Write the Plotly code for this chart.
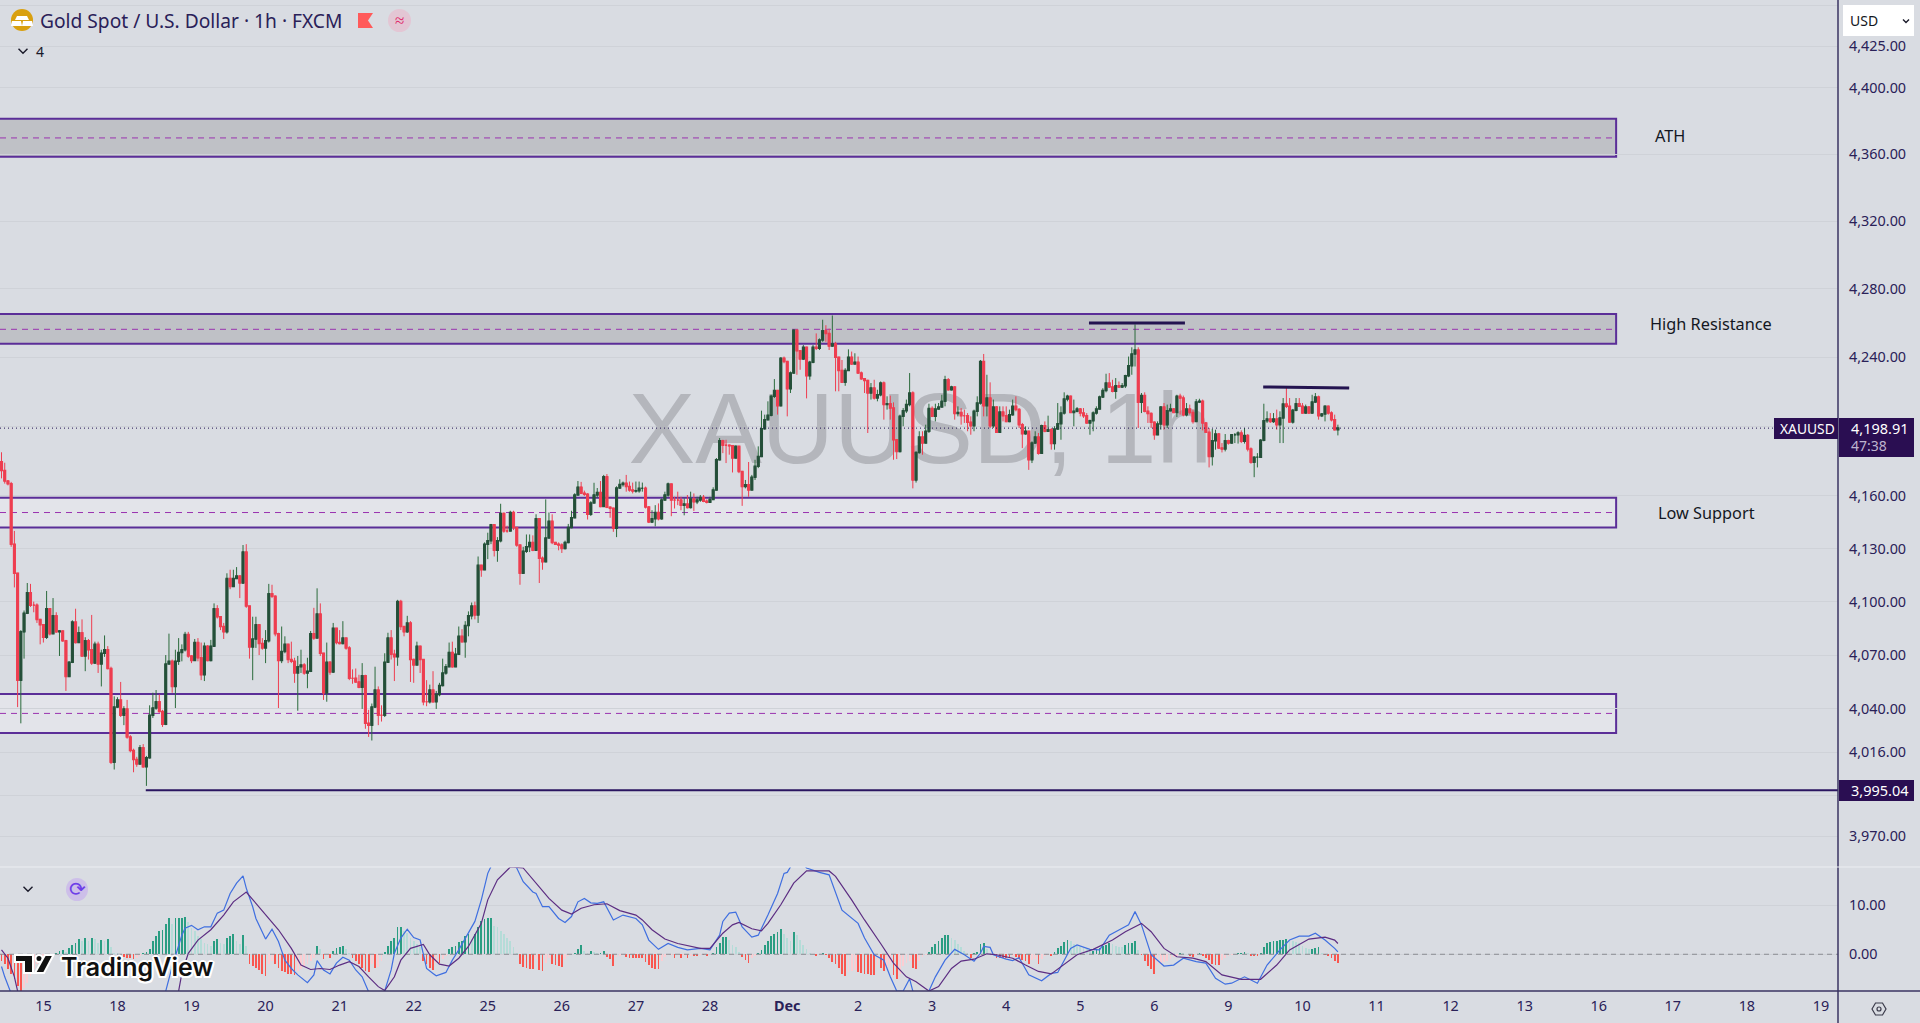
import math
import plotly.graph_objects as go

# ---------- candle values (1h bars, price in USD) ----------
first_open = 4179.6
close = [
4174.5,4168.5,4167,4132.5,4116,4056,4083,4093.5,4105,4098,4098,4090,4087,4080,4096,4082,4092,4083,4083.5,4078,
4058,4066,4088.5,4077,4082.5,4069.5,4078,4073,4065.5,4076,4065,4071,4073,4062.5,4010.5,4041,4045,4036.5,4040,4024.5,
4017,4012,4009.5,4018.5,4008,4013,4036.5,4040.5,4044,4038.5,4031.5,4065,4066.5,4052.5,4066.5,4071.5,4073,4081.5,4069.5,4067,
4077,4068.5,4059,4075,4067,4075,4096,4091.5,4086,4083,4113,4108.5,4113,4114.5,4110.5,4128,4097.5,4074.5,4079,4087,
4076.5,4074,4078,4104.5,4103,4082,4067,4072,4076,4067.5,4066.5,4060,4063.5,4064.5,4060,4061,4082,4079.5,4093,4071,
4049,4066,4060.5,4085,4077,4076.5,4079.5,4074,4057,4057,4055,4052,4058.5,4032,4031,4041,4050.5,4036.5,4036.5,4066,
4079.5,4070.5,4069,4100,4086,4083,4088,4067.5,4064.5,4075,4067.5,4044,4044,4050.5,4044,4048,4053,4060,4063.5,4071.5,
4063.5,4070.5,4080.5,4077.5,4086.5,4092,4097.5,4092.5,4120.5,4118,4132.5,4134.5,4143.5,4129,4134.5,4150,4140,4140,4150.5,4142,
4132,4116,4128.5,4131,4133.5,4129,4147,4124.5,4122.5,4136,4145.5,4133.5,4132.5,4132,4130,4133.5,4142,4147.5,4160.5,4165,
4161.5,4161,4149.5,4156,4160.5,4162,4154,4171,4153.5,4153,4141.5,4164.5,4166.5,4167.2,4165.3,4163.4,4162.8,4163,4164.3,4164.3,
4153.7,4145.1,4147,4150.5,4147,4157.6,4160.5,4166.8,4157.6,4157.6,4157.6,4154.7,4155.3,4153.4,4158.2,4156.6,4157.6,4159.1,4157,4156.4,
4158,4163.4,4180.7,4191.7,4189,4189,4188.8,4181.7,4188.4,4174,4165.3,4166.3,4163.4,4170.7,4176.9,4182.6,4198.6,4203.8,4206.3,4217.3,
4220.7,4211.9,4239.4,4237.5,4221.7,4230.8,4255.8,4243.8,4239,4245.8,4229.2,4237.1,4245.8,4245.2,4250,4255.4,4253.9,4246.5,4247.7,4240,
4232.3,4225.5,4232.3,4240,4236.1,4237.1,4230.8,4227.5,4226.5,4219.2,4222.1,4216.3,4218.2,4225,4212.5,4213,4210.5,4192.2,4185.5,4205.7,
4209,4212.5,4219.2,4169.1,4184.9,4193.8,4190.3,4197.1,4210.2,4205.7,4210,4211.1,4214.4,4226.9,4221.1,4222.7,4207.3,4208,4206.1,4206.1,
4202.3,4200.3,4208.6,4213.4,4237.5,4211.9,4216.3,4200.3,4211.1,4196.5,4208.2,4206.1,4202.8,4206.7,4211.5,4209.6,4200.9,4195.7,4197.1,4180.7,
4190.3,4193.8,4184.5,4200.3,4197.1,4198,4190,4198.4,4201.5,4207.6,4215.7,4217.3,4208,4208.6,4210,4207.6,4206.1,4201.9,4203.2,4207.6,
4210,4216.9,4220.7,4225,4222.7,4220.2,4223.4,4222.7,4223.4,4229.2,4235,4241.9,4244.2,4213.8,4217.7,4208.6,4207.3,4202.3,4195.1,4201.3,
4211.1,4200.9,4209,4210,4208,4217.3,4216.3,4206.7,4210,4208,4202.8,4214,4214.4,4201.9,4196.5,4182.6,4191.7,4195.5,4187.4,4186.9,
4191.7,4190.3,4195.1,4195.1,4196.1,4191.3,4194.6,4186.9,4179.3,4182.2,4182.2,4191.9,4203.2,4204.2,4202.8,4204.2,4200.9,4204.8,4212.8,4211.5,
4202.5,4209.2,4213,4211.5,4207.6,4211.1,4207.6,4214,4216.9,4206.1,4207.1,4211.5,4207.6,4203.8,4198,4198.91]
high = [
4185,4179,4169,4168,4140,4116,4084,4095,4110.5,4110,4100,4099,4090,4087,4106,4096,4102,4094,4084,4083,
4078.5,4066.5,4089.5,4096,4086,4090,4080,4079,4092.5,4077.5,4077.5,4073,4081,4075,4063.5,4047,4046.5,4055,4041.5,4045,
4025.5,4018,4013.5,4020,4020.5,4014,4042,4049,4050.5,4048,4039.5,4070,4082,4067.5,4073,4079.5,4076,4083,4083,4070,
4079,4079.5,4077,4077,4075.5,4078.5,4099,4098,4091.5,4088,4116,4118,4118,4119.5,4114.5,4132,4132.5,4097.5,4091.5,4091.5,
4087,4079.5,4084,4110,4109.5,4103.5,4082.5,4086,4080.5,4076,4077.5,4068.5,4069.5,4073,4065.5,4068.5,4083.5,4096.5,4107.5,4099,
4071,4077,4066.5,4088,4085,4084,4089,4079.5,4075,4062,4062.5,4059,4065.5,4059,4039.5,4043,4063.5,4052.5,4042,4071,
4082.5,4084,4073,4101,4101,4086,4092,4089,4068,4077.5,4075,4067.5,4056,4053.5,4061,4050,4054.5,4068,4065,4077,
4077.5,4074,4086,4084.5,4089,4094.5,4099.5,4100,4125.5,4120.5,4133.5,4139,4144,4143.5,4136.5,4155.5,4150.5,4143,4151.5,4151.5,
4142,4132,4131,4138,4138,4137.5,4149.5,4147,4125.5,4158,4150.5,4149.5,4133.5,4133.5,4133,4134.5,4144,4151.5,4161.5,4168.5,
4168,4163,4161.5,4157,4167.5,4164.5,4168.5,4172,4172.5,4154,4153,4165.5,4169.5,4168.2,4172,4168.2,4167.6,4168.2,4168.2,4167.6,
4165.3,4154.1,4151.8,4154.7,4155.7,4158.6,4162.4,4167.6,4166.3,4159.5,4162.4,4159.5,4158.6,4160.5,4162.4,4161.4,4159.5,4160.5,4160.5,4158,
4159.5,4164.9,4181.7,4193.2,4192.2,4192.2,4189.4,4189,4188.8,4187.4,4174,4169.1,4179.4,4172,4180.7,4188.4,4209,4206.7,4214.4,4218.2,
4227.3,4220.7,4240,4240.4,4237.9,4231.7,4256.2,4255.8,4244.2,4247.1,4246.1,4237.9,4247.1,4253.9,4251,4261.9,4258.7,4256.7,4264.4,4249,
4240,4238.4,4233.6,4244.6,4243.3,4242.3,4240.4,4231.7,4227.9,4226.9,4225,4226.9,4221.1,4225.9,4225.9,4217.3,4217.7,4213.8,4192.6,4206.7,
4210.5,4215.4,4230.8,4220.2,4185.5,4197.1,4197.1,4200.9,4213,4211.5,4213,4213.4,4218.2,4229.2,4227.9,4223.4,4223,4211.5,4210.5,4209.6,
4207.6,4205.7,4209.6,4217.3,4238.4,4241.9,4229.8,4225.4,4215.4,4211.5,4211.5,4211.5,4211.5,4209.6,4215.4,4217.3,4210.5,4201.9,4199.9,4197.1,
4191.3,4197.1,4196.1,4200.9,4202.8,4206.1,4199,4200,4213.4,4211.5,4219.6,4218.2,4217.7,4215.4,4211.1,4210.5,4210.5,4207.6,4203.8,4208.6,
4211.5,4217.7,4222,4230.4,4230.8,4226.9,4227.9,4225.9,4225,4229.8,4240.4,4245.8,4259.2,4245.8,4219.2,4219.6,4211.5,4208,4202.8,4202.8,
4211.5,4213.4,4212.5,4213,4210.5,4218.2,4218.8,4217.7,4213.4,4212.5,4209.6,4215.7,4215.9,4215.4,4202.3,4199,4198.4,4198,4196.1,4190.3,
4195.5,4192.2,4195.5,4196.1,4197.1,4197.6,4199,4195.5,4187.8,4182.6,4184.5,4192.6,4213,4208.6,4207.6,4207.6,4209.6,4208.6,4216.3,4222.1,
4216.3,4210,4216.3,4216.3,4213.4,4212.5,4211.5,4218.2,4219.2,4217.7,4207.6,4212.1,4211.9,4208.6,4206.7,4200.9]
low = [
4170,4167,4166,4131,4108,4041,4032,4068,4093,4097,4094,4088,4076,4077,4079,4081,4082,4082.5,4069.5,4077.5,
4050,4058,4065.5,4076.5,4077,4069,4061,4067.5,4064.5,4065,4060,4052.5,4069,4062,4009.5,4006.5,4040.5,4035.5,4031,4023.5,
4016,4005,4008,4009.5,4007.5,3997.5,4012.5,4035,4039.5,4038,4030,4031,4065,4049,4040.5,4064.5,4066.5,4072,4068.5,4065.5,
4067,4066.5,4056,4055.5,4066.5,4066.5,4075,4090.5,4084,4079,4082,4107,4108.5,4113,4102,4110,4096.5,4068,4056,4074,
4070,4073,4065.5,4077,4102,4080.5,4040.5,4065.5,4071,4065.5,4065.5,4054.5,4039,4060,4059,4051.5,4060.5,4078.5,4079.5,4069.5,
4045,4044,4059,4060,4076,4076,4076,4073,4056,4054,4054.5,4051.5,4040,4029,4024.5,4022.5,4040.5,4031,4033,4035.5,
4069.5,4067.5,4055.5,4064,4084,4080.5,4082.5,4055,4054.5,4064.5,4060,4042,4041.5,4043,4043.5,4040,4047,4052.5,4059,4063.5,
4063,4063.5,4070,4077,4068.5,4080.5,4090,4090,4088,4114,4118,4124,4132.5,4125.5,4122.5,4133.5,4139,4139,4140,4140.5,
4131,4109.5,4116,4127.5,4128,4128.5,4129,4110.5,4118,4122.5,4136,4132.5,4132,4129,4127.5,4129.5,4133,4141.5,4147.5,4160.5,
4161,4160,4146.5,4148.5,4156,4159,4153.5,4154,4153,4147.5,4139.5,4136.5,4164,4165.3,4162.4,4162.4,4161.4,4161.8,4161.8,4162.4,
4152.8,4144.5,4144.5,4142.6,4146,4146.4,4157.6,4159.5,4148.4,4152.8,4154.7,4151.8,4148.9,4152.8,4152.8,4151.4,4155.3,4156.6,4156.4,4155.7,
4156,4157.6,4163,4180.3,4184.5,4178.8,4183.6,4173.4,4181.7,4173,4154.3,4164.3,4159.5,4163.4,4169.1,4175.9,4182.2,4198,4203.4,4205.7,
4216.3,4206.7,4211.5,4236.5,4205.7,4219.2,4230.4,4229.8,4232.7,4238.4,4216.1,4226.9,4236.5,4244.2,4244.2,4249,4249,4244.2,4246.1,4220.2,
4220.2,4225,4223.4,4232.3,4235.6,4236.1,4230.4,4226.9,4219.2,4196.1,4215.4,4215.4,4214.4,4217.3,4203.8,4209.6,4203.8,4180.7,4181.1,4184.9,
4200,4207.6,4211.5,4164.3,4167.6,4184.2,4183.6,4190.3,4196.1,4205.3,4202.8,4209.6,4211.1,4211.5,4220.7,4220.7,4203.8,4205.7,4200.9,4201.9,
4197.1,4195.1,4197.1,4205.7,4212.5,4205.7,4205.7,4199,4199,4196.1,4196.5,4202.8,4202.3,4202.3,4206.1,4208.6,4199,4187.4,4195.1,4174.9,
4178.8,4190,4183.6,4184.2,4196.5,4197.1,4186.5,4186.5,4198,4192.2,4206.7,4214.4,4207.6,4200,4208,4205.7,4204.8,4201.5,4195.1,4197.1,
4206.7,4209.6,4216.3,4219.6,4222.1,4219.6,4215.9,4222.1,4222.1,4222.1,4228.4,4229.8,4234.6,4199,4207.6,4208,4201.9,4199,4192.2,4196.1,
4198,4198,4199,4208.6,4207.6,4205.3,4206.7,4205.7,4205.7,4206.7,4201.5,4202.8,4213.4,4197.6,4196.1,4176.3,4177.4,4186.5,4186.9,4184.9,
4185.5,4189.4,4190,4190.3,4190,4190.3,4190,4185.5,4178.4,4170.7,4176.3,4181.7,4191.3,4201.9,4201.9,4201.9,4198,4190.3,4190.3,4210.5,
4201.9,4201.5,4208.6,4211.1,4207.3,4207.3,4207.3,4207.3,4213.4,4203.8,4205.3,4202.8,4206.7,4202.8,4197.6,4194.7]
open_ = [first_open] + close[:-1]

# ---------- MACD pane values ----------
hist = [
-1.4,-2,-3.1,-4.1,-5.1,-6.5,-7.5,-6.8,-5.8,-4.4,-3.1,-2,-1.7,-1.4,-.7,-.4,-.1,.3,.7,.8,
.5,1.2,1.9,2.4,3.1,2.7,3.4,2.7,3.3,3.1,2.4,2.9,2.7,3.1,1.4,.3,.2,.1,-.5,-.7,
-.8,-1,-.7,-.3,.3,.5,1,2.7,3.7,4.8,4.9,6.1,7.3,6.1,7.3,7.5,7.5,7.6,6.5,5.4,
4.8,3.7,3.1,2.4,2,1.7,2.7,3.1,2.4,2,3.4,3.7,4.1,2.7,2,3.9,1.7,-1.9,-2.4,-2.7,
-3.2,-4.1,-4.5,-2,-1.4,-2,-2.9,-3.4,-3.7,-4.1,-4.1,-4.2,-3.4,-3.1,-2.6,-1.9,-1.4,-.7,1.7,1,
-1,-.3,-.8,.7,1.2,1.5,1.7,1,.3,-.7,-1.4,-1.9,-2.7,-3.4,-3.7,-2,-2.7,-2.6,-1.4,.5,
1.7,2.7,3.4,5.6,5.6,4.8,4.4,3.4,2.7,2,1.4,-1.4,-2,-2.7,-3.3,-1.7,-1.7,-1,-.3,1,
1.4,1.7,2.6,2.7,3.7,4.1,3.1,4.1,5.6,6.8,7.1,7.3,7.3,5.8,5.6,4.8,4.1,3.4,2.7,1.4,
.3,-2,-2.6,-2.9,-3.1,-3.1,-1,-3.3,-3.4,-1.7,-.7,-2,-2.2,-2.4,-2.6,-1,-.3,.1,.3,1,
1.9,.7,.3,.7,.5,.3,.3,.7,-.5,-1,-2.4,-.5,-.3,-.2,-.5,-.8,-.8,-.8,-.8,-.8,
-1.5,-2.2,-2.9,-3.1,-3.1,-1.4,-.5,-.2,-.1,-.7,-.2,-.8,-.3,-.8,-.3,-.3,-.3,-.2,-.2,-.3,
0,.3,1.5,2.4,3.5,3.5,2.9,1.9,1.4,.5,-.5,-1.1,-1.8,-.8,-.4,.2,.8,1.9,2.7,3.7,
4.1,4.6,5.2,4.1,3.3,2.7,4.5,3.9,2.9,1.9,1,.3,.1,-.3,.1,.3,-.2,-.8,-1.5,-2,
-2.9,-4.1,-4.4,-3.7,-3.4,-3.3,-3.7,-3.9,-4.1,-4.1,-4.2,-4.2,-2.2,-2.7,-3.4,-2.6,-2,-4.2,-5.1,-4.1,
-2.4,-1.7,-1.4,-2.7,-3.1,-1.4,-.5,-.1,.5,1.5,2,2.7,3.4,3.9,3.9,3.4,2.9,2,1.4,.7,
.2,-.7,.2,.5,2,2.2,1,.3,-.2,-.7,-.7,-.8,-.8,-.8,-.3,-.5,-1,-1.2,-1.4,-2,
-1.2,-1,-2,-1,-.3,-.2,-.3,.5,1.2,1.7,2.6,2.9,2.7,2,1.7,1.5,1.2,1,.7,.7,
1,1.2,1.6,1.9,2.4,2,1.7,1.5,1.4,1.8,2.2,2.4,2.7,.8,-.2,-1.4,-2.4,-3.1,-4.1,-2.2,
-1.9,-1.6,-1.4,-1,-.5,-.3,.3,.2,.1,-.3,-.5,-.2,.3,-.3,-.7,-1.2,-2,-2.2,-2.2,-1.2,
-.7,-.4,-.2,.1,.3,.3,.5,.2,-.3,-.3,-.3,.3,1.5,2.2,2.5,2.7,2.8,2.9,2.9,3.1,
2.9,2.7,2.6,2.2,1.7,1.2,1,1,1.2,1.4,.3,-.1,-.3,-.7,-1.4,-1.7]
macd_i = [0,1,3,4,20,41,48,51,53,55,56,57,59,61,63,65,67,69,71,73,75,76,78,79,81,82,84,86,88,90,92,95,97,98,100,102,104,106,108,110,112,114,116,119,121,122,124,126,128,130,132,134,135,138,140,142,144,147,149,151,152,154,160,162,165,166,168,170,173,175,177,179,181,183,185,187,190,193,197,199,201,204,207,210,213,217,220,223,224,226,228,230,233,235,238,241,243,244,245,247,250,254,257,259,261,266,268,271,274,276,278,280,282,283,285,288,290,293,296,299,302,304,305,307,308,312,314,316,319,323,326,328,332,334,338,341,344,348,350,352,354,357,361,364,367,371,374,377,380,382,386,390,393,397,400,403,406,408,411,414,415]
macd_v = [-2.5,-4.6,-8,-10,-21.6,-18.8,-10.7,-7.5,-2.5,1.6,3.9,5.3,5.9,5,5.6,5.6,8.4,9,12.4,14.5,16,13.5,9.7,7.3,4.6,3.1,5.1,2.6,-1.2,-2.9,-4.2,-5.8,-4.2,-1.3,-3.2,-4,-1.8,-.6,-1.2,-3.2,-4.6,-7.5,-10.7,-7.5,-3.2,.2,3.3,5.1,3.4,2.9,-2.9,-3.9,-4.4,-3.7,-1.2,.9,3.3,6.7,11.1,16.5,17.9,22,17.6,14.8,12.7,12.4,9.7,9.7,7.3,6.5,7.7,10.7,11.4,10.5,10.4,10.7,7,8,7.3,6,2.9,1,2.2,1.4,.9,1.2,.9,3.9,6.7,8.4,8.6,5.6,3.5,3.9,8,12.4,16.5,16.7,17.8,19.9,17.6,16.7,16.2,12.8,9,6.3,3.3,-.1,-1.2,-4.6,-7.5,-7.5,-5,-7.5,-10,-7.5,-4.6,-1.2,1,-.1,-1.4,.2,1.6,1.4,-.1,-1,-1.3,-.7,-4.2,-5.4,-3.9,-3.7,1.2,1.9,1,.9,3.9,5.3,6,8.7,6,-.1,-2.4,-2.2,-.8,-1.5,-1.8,-4.9,-6.1,-5.9,-4.6,-5.9,-2.2,.9,2.9,3.7,3.7,4.3,2.9,1.2,.5]
signal_i = [0,2,4,5,8,41,52,55,56,58,61,65,69,72,76,79,83,86,90,93,96,99,102,105,108,111,114,117,119,122,124,127,131,133,136,139,142,145,149,151,154,158,162,166,170,174,177,180,184,188,192,197,199,202,206,210,217,220,224,227,229,233,236,238,242,246,250,257,259,264,268,273,277,281,284,288,291,295,298,302,306,309,314,318,322,326,329,334,339,345,349,354,357,361,365,370,374,379,385,391,396,400,406,411,414,415]
signal_v = [.9,-.8,-4.6,-7.5,-13.4,-14.8,-10.7,-7.5,-3.9,.2,2.9,5,8,10.7,12.7,10.4,7.3,5,1.2,-2.2,-3.1,-2.9,-3.1,-2.2,-1.5,-2.5,-4.6,-6.6,-7.4,-4.6,-1.2,1.2,2,-.1,-2,-2.4,-.8,1.6,6.3,11.1,15.2,17.8,17.6,14.5,11.4,9,8.2,9.4,10.1,10.3,8.9,8,7,5,3.1,2.2,1.2,1.2,4.3,6,6.5,5.2,4.8,6.3,10.1,14.5,17,17,15.9,11.1,7,2.2,-1.8,-4.6,-5.6,-7.5,-6.6,-2.9,-1.4,-1,.1,-.1,-.8,-2.2,-3.5,-4,-2.5,-.1,1,2.9,4.6,6.3,4.6,1.2,-.5,-.8,-1.5,-4.2,-5.1,-5.1,-2.2,.9,3.1,3.5,2.9,2.2]

# ---------- axes ----------
price_ticks = [4450,4425,4400,4360,4320,4280,4240,4200,4160,4130,4100,4070,4040,4016,3992,3970]
hidden_ticks = [4450,4200,3992]
day_bars = [13,36,59,82,105,128,151,174,197,220,244,266,289,312,335,358,381,404,427,450,473,496,519,542,565]
day_labels = ["15","18","19","20","21","22","25","26","27","28","<b>Dec</b>","2","3","4","5","6","9","10","11","12","13","16","17","18","19"]
last_price = 4198.91
level_price = 3995.04

# zones: top, bottom, middle, fill
zones = [(4381.2,4358.4,4369.7,"#bfc1c6"),(4265.3,4247.9,4256.3,"#bfc1c6"),
         (4159,4142,4150.5,"#e3e4ea"),(4048.3,4026.6,4037.5,"#e3e4ea")]
zone_end = 501.4
level_start = 44.8
resistance_a = ((337.7,4260),(367.5,4260))
resistance_b = ((391.8,4222.7),(418.5,4222.1))

W, H = 1920, 1023
BG = "#d9dce2"
INK = "#2a2158"
PURPLE = "#5b2e98"
NAVY = "#2a0e52"
XR = [-0.47, 570.3]
def px(x): return x / W
def py(y): return 1 - y / H
YR = [math.log10(3953.2), math.log10(4453.3)]

fig = go.Figure()

# watermark goes on the base axes so the candles (overlay axes) sit above it
fig.add_trace(go.Scatter(x=[285.3], y=[4193.5], mode="text", text=["XAUUSD, 1h"], textposition="middle center",
    textfont=dict(family="Liberation Sans", size=100, color="#b4b6bc"), hoverinfo="skip", showlegend=False))

bars = list(range(len(close)))
UP_WICK, UP_FILL, DOWN = "#2b6b3c", "#26382c", "#ee3e50"
# full range of every bar: thin wicks
fig.add_trace(go.Candlestick(x=bars, open=open_, high=high, low=low, close=close, xaxis="x3", yaxis="y3",
    increasing=dict(line=dict(color=UP_WICK, width=1), fillcolor=UP_FILL),
    decreasing=dict(line=dict(color=DOWN, width=1), fillcolor=DOWN),
    whiskerwidth=0, showlegend=False))
# open-to-close part drawn again with a heavier outline for the thicker bodies
body_top = [max(a, b) for a, b in zip(open_, close)]
body_bot = [min(a, b) for a, b in zip(open_, close)]
fig.add_trace(go.Candlestick(x=bars, open=open_, high=body_top, low=body_bot, close=close, xaxis="x3", yaxis="y3",
    increasing=dict(line=dict(color="#25503a", width=1.5), fillcolor=UP_FILL),
    decreasing=dict(line=dict(color=DOWN, width=1.5), fillcolor=DOWN),
    whiskerwidth=0, showlegend=False))
fig.add_trace(go.Scatter(x=[XR[0], XR[1]], y=[last_price, last_price], mode="lines", xaxis="x3", yaxis="y3",
    line=dict(color="#1f1150", width=1, dash="1px,3px"), hoverinfo="skip", showlegend=False))

def hist_color(i):
    v = hist[i]; prev = hist[i-1] if i else v
    if v >= 0:
        return "#2a9d82" if v >= prev else "#b5dcd8"
    return "#f9564f" if v <= prev else "#fbcdd2"
fig.add_trace(go.Bar(x=bars, y=hist, width=0.55, marker=dict(color=[hist_color(i) for i in bars], line=dict(width=0)),
    xaxis="x2", yaxis="y2", showlegend=False))
fig.add_trace(go.Scatter(x=[XR[0], XR[1]], y=[0, 0], mode="lines", xaxis="x2", yaxis="y2",
    line=dict(color="#8a8c92", width=1, dash="5px,4px"), showlegend=False, hoverinfo="skip"))
fig.add_trace(go.Scatter(x=macd_i, y=macd_v, mode="lines", xaxis="x2", yaxis="y2",
    line=dict(color="#3f6fe0", width=1.2), showlegend=False))
fig.add_trace(go.Scatter(x=signal_i, y=signal_v, mode="lines", xaxis="x2", yaxis="y2",
    line=dict(color="#5c2d82", width=1.2), showlegend=False))

shapes = []
for top, bot, mid, fill in zones:
    shapes.append(dict(type="rect", xref="x", yref="y", x0=XR[0]-5, x1=zone_end, y0=bot, y1=top, layer="below",
                       fillcolor=fill, line=dict(color=PURPLE, width=2)))
    shapes.append(dict(type="line", xref="x", yref="y", x0=XR[0], x1=zone_end, y0=mid, y1=mid, layer="below",
                       line=dict(color="#9a33b0", width=1, dash="6px,5px")))
shapes.append(dict(type="line", xref="x", yref="y", x0=level_start, x1=XR[1], y0=level_price, y1=level_price,
                   line=dict(color="#2a1560", width=2), layer="above"))
for (a, b) in (resistance_a, resistance_b):
    shapes.append(dict(type="line", xref="x", yref="y", x0=a[0], x1=b[0], y0=a[1], y1=b[1],
                       line=dict(color="#241450", width=3), layer="above"))

def box(x0, y0, x1, y1, color, line=None, kind="rect"):
    shapes.append(dict(type=kind, xref="paper", yref="paper", x0=px(x0), x1=px(x1), y0=py(y1), y1=py(y0),
                       fillcolor=color, line=dict(width=0) if line is None else line, layer="above"))
def path(points, color, line=None, closed=True):
    d = "M" + " L".join(f"{px(x):.5f},{py(y):.5f}" for x, y in points) + (" Z" if closed else "")
    shapes.append(dict(type="path", xref="paper", yref="paper", path=d, fillcolor=color,
                       line=dict(width=0) if line is None else line, layer="above"))
def chevron(x, y, half, color="#1a1a2a"):
    path([(x-half, y-half/2), (x, y+half/2), (x+half, y-half/2)], "rgba(0,0,0,0)", dict(color=color, width=1.4), closed=False)

# frame lines
AX = "#3a3562"
shapes.append(dict(type="line", xref="paper", yref="paper", x0=px(1838), x1=px(1838), y0=0, y1=1, line=dict(color=AX, width=1.5), layer="above"))
shapes.append(dict(type="line", xref="paper", yref="paper", x0=0, x1=1, y0=py(991), y1=py(991), line=dict(color=AX, width=1.5), layer="above"))
shapes.append(dict(type="line", xref="paper", yref="paper", x0=0, x1=1, y0=py(867), y1=py(867), line=dict(color="#eceef2", width=1), layer="above"))
# price boxes
box(1774, 418, 1838, 439, NAVY)
box(1839, 418, 1914, 457, NAVY)
box(1839, 780, 1914, 801, NAVY)
# currency box
box(1843, 5, 1914, 36, "#ffffff")
chevron(1906, 21, 3)
# header icons
box(11, 9, 33, 31, "#d9a00f", kind="circle")
path([(17,16),(27,16),(29,20),(15,20)], "#ffffff")
path([(12,21),(21,21),(22,26),(11,26)], "#ffffff")
path([(23,21),(32,21),(33,26),(22,26)], "#ffffff")
path([(358,13),(373,13),(368,20.5),(373,28),(358,28)], "#ff5a5a")
box(388, 9, 411, 32, "#e3c6d4", kind="circle")
chevron(23, 51, 4.5)
box(66, 878, 88, 901, "#cdbfe9", kind="circle")
chevron(28, 889, 4.5)
# TradingView logo
OUT = dict(color="#ffffff", width=2)
path([(15,955),(33,955),(33,973),(24,973),(24,962),(15,962)], "#111111", OUT)
box(35.5, 955, 42.5, 962, "#111111", OUT, kind="circle")
path([(45,955),(53.5,955),(44,973),(35,973)], "#111111", OUT)
# settings hexagon
path([(1872,1009),(1875.5,1003),(1882.5,1003),(1886,1009),(1882.5,1015),(1875.5,1015)], "rgba(0,0,0,0)", dict(color="#3a3a4a", width=1.2))
box(1877, 1007, 1881, 1011, "rgba(0,0,0,0)", dict(color="#3a3a4a", width=1.2), kind="circle")

def note(text, x, y, size=14, color=INK, family="Noto Sans", anchor="left", **font):
    return dict(text=text, xref="paper", yref="paper", x=px(x), y=py(y), xanchor=anchor, yanchor="middle", showarrow=False,
                font=dict(family=family, size=size, color=color, **font))
HALO = ",".join(f"{a}px {b}px 0 #fff" for a, b in [(2,0),(-2,0),(0,2),(0,-2),(1.5,1.5),(-1.5,-1.5),(1.5,-1.5),(-1.5,1.5)])
annotations = [
    note("Gold Spot / U.S. Dollar · 1h · FXCM", 38, 20.5, 19.2),
    note("≈", 399.5, 20, 17, "#e0286a", anchor="center"),
    note("4", 34, 52, 14, "#1a1a2a"),
    note("USD", 1848, 21, 14, "#131722"),
    note("XAUUSD", 1778, 428.5, 13.8, "#ffffff"),
    note("4,198.91", 1849, 428, 14.5, "#ffffff"),
    note("47:38", 1849, 445, 14, "#bdb4cf"),
    note("3,995.04", 1849, 790, 14.5, "#ffffff"),
    note("⟳", 77, 889, 20, "#6d3ee8", family="DejaVu Sans", anchor="center"),
    note("TradingView", 59, 967, 25, "#111111", family="Inter", weight=600, shadow=HALO),
]
for label, bar, price in [("ATH", 518, 4371), ("High Resistance", 531, 4259.2), ("Low Support", 529.5, 4150.5)]:
    annotations.append(dict(text=label, xref="x", yref="y", x=bar, y=math.log10(price), showarrow=False,
                            xanchor="center", yanchor="middle", font=dict(family="Noto Sans", size=16.3, color="#131722")))

fig.update_layout(
    width=W, height=H, margin=dict(l=0, r=0, t=0, b=0), autosize=False,
    paper_bgcolor=BG, plot_bgcolor=BG, showlegend=False, bargap=0, barmode="overlay",
    font=dict(family="Noto Sans", size=14, color=INK), hovermode=False, dragmode=False,
    shapes=shapes, annotations=annotations,
    xaxis=dict(domain=[0, 1838/W], range=XR, anchor="y", showticklabels=False, showgrid=False, zeroline=False, ticks=""),
    yaxis=dict(domain=[1-867/H, 1], range=YR, type="log", side="right", anchor="x", tickmode="array",
               tickvals=price_ticks, ticktext=["" if v in hidden_ticks else f"{v:,.2f}" for v in price_ticks], ticks="", ticklabelstandoff=10,
               showgrid=True, gridcolor="#cfd2d8", gridwidth=1, zeroline=False, showline=False,
               tickfont=dict(family="Noto Sans", size=14.4, color=INK)),
    xaxis3=dict(overlaying="x", range=XR, anchor="y3", visible=False, rangeslider=dict(visible=False)),
    yaxis3=dict(overlaying="y", range=YR, type="log", anchor="x3", side="right", visible=False),
    xaxis2=dict(domain=[0, 1838/W], range=XR, anchor="y2", tickmode="array", tickvals=day_bars, ticktext=day_labels,
                showgrid=False, zeroline=False, ticks="", ticklabelstandoff=5, tickangle=0,
                tickfont=dict(family="Noto Sans", size=14.4, color=INK)),
    yaxis2=dict(domain=[1-991/H, 1-867/H], range=[-7.49, 17.8], side="right", anchor="x2", tickmode="array",
                tickvals=[0, 10], ticktext=["0.00", "10.00"], ticks="", ticklabelstandoff=10, showgrid=True,
                gridcolor="#cfd2d8", zeroline=False, tickfont=dict(family="Noto Sans", size=14.4, color=INK)),
)
fig.write_html("out.html", config=dict(displayModeBar=False, staticPlot=True),
               post_script="document.body.style.margin='0';document.body.style.overflow='hidden';document.documentElement.style.background='#d9dce2';")
